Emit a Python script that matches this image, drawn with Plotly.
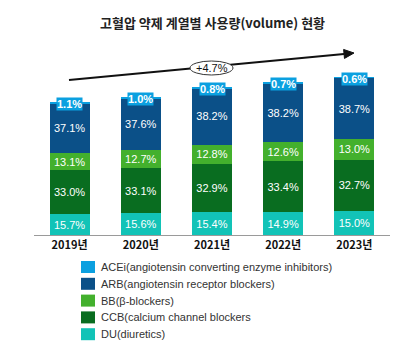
import math
import plotly.graph_objects as go

# Categories and data
years = ["2019년", "2020년", "2021년", "2022년", "2023년"]
# total prescription volume index per year (2019 = 100)
volume_index = [100, 103.8, 111.3, 115.0, 118.8]

series_names = [
    "DU(diuretics)",
    "CCB(calcium channel blockers",
    "BB(β-blockers)",
    "ARB(angiotensin receptor blockers)",
    "ACEi(angiotensin converting enzyme inhibitors)",
]
du_share = [15.7, 15.6, 15.4, 14.9, 15.0]
ccb_share = [33.0, 33.1, 32.9, 33.4, 32.7]
bb_share = [13.1, 12.7, 12.8, 12.6, 13.0]
arb_share = [37.1, 37.6, 38.2, 38.2, 38.7]
acei_share = [1.1, 1.0, 0.8, 0.7, 0.6]
growth_label = "+4.7%"

colors = ["#12c3b7", "#096d20", "#43b02d", "#0b5088", "#0ba0e0"]
shares = [du_share, ccb_share, bb_share, arb_share, acei_share]

# Page geometry in pixels; the plot area spans x 34..390, y 60..235
W, H = 401, 349
ml, mr, mt, mb = 34, 11, 60, 0
pw, ph = W - ml - mr, H - mt - mb
plot_bottom_px = 235
y_domain_low = (H - mb - plot_bottom_px) / ph


def px_to_paper(px, py):
    return (px - ml) / pw, (H - mb - py) / ph


fig = go.Figure()
for name, share, color in zip(series_names, shares, colors):
    is_top = share is acei_share
    values = [v * s / 100 for v, s in zip(volume_index, share)]
    fig.add_trace(go.Bar(
        x=years,
        y=values,
        name=name,
        marker=dict(color=color, line=dict(width=0)),
        text=None if is_top else [f"{s:.1f}%" for s in share],
        textposition="none" if is_top else "inside",
        insidetextanchor="middle",
        textfont=dict(family="Liberation Sans, Arial", size=11, color="white"),
        hoverinfo="skip",
        showlegend=False,
    ))

# ACEi share shown in a tag sitting on top of each bar
for yr, tot, s in zip(years, volume_index, acei_share):
    fig.add_annotation(
        x=yr, y=tot, xref="x", yref="y",
        text=f"<b>{s:.1f}%</b>", showarrow=False,
        font=dict(family="Liberation Sans, Arial", size=11, color="white"),
        bgcolor="#0ba0e0", borderpad=0, yanchor="middle", yshift=-2,
    )

# Trend arrow: shaft plus a filled head, drawn before the ellipse badge
tail = (69, 80)
tip = (354, 53)
dx, dy = tip[0] - tail[0], tip[1] - tail[1]
ln = math.hypot(dx, dy)
ux, uy = dx / ln, dy / ln
nx_, ny_ = -uy, ux
head_len, head_half = 10, 4.5
bx, by = tip[0] - head_len * ux, tip[1] - head_len * uy
sx0, sy0 = px_to_paper(*tail)
sx1, sy1 = px_to_paper(bx, by)
fig.add_shape(type="line", xref="paper", yref="paper",
              x0=sx0, y0=sy0, x1=sx1, y1=sy1,
              line=dict(color="#111111", width=2))
p_tip = px_to_paper(*tip)
p_a = px_to_paper(bx + head_half * nx_, by + head_half * ny_)
p_b = px_to_paper(bx - head_half * nx_, by - head_half * ny_)
fig.add_shape(type="path", xref="paper", yref="paper",
              path=f"M{p_tip[0]},{p_tip[1]} L{p_a[0]},{p_a[1]} L{p_b[0]},{p_b[1]} Z",
              fillcolor="#111111", line=dict(color="#111111", width=1))

# Growth label in an ellipse
ex0, ey0 = px_to_paper(190, 75)
ex1, ey1 = px_to_paper(233, 61)
fig.add_shape(type="circle", xref="paper", yref="paper",
              x0=ex0, y0=ey0, x1=ex1, y1=ey1,
              fillcolor="white", line=dict(color="#333333", width=1))
cx, cy = px_to_paper(211.5, 68)
fig.add_annotation(x=cx, y=cy, xref="paper", yref="paper", text=growth_label,
                   showarrow=False, yanchor="middle",
                   font=dict(family="Liberation Sans, Arial", size=11, color="#111111"))

# Key: colour swatch + series name, top entry first
legend_top_px, legend_step_px = 267, 16.8
for i, (name, color) in enumerate(zip(reversed(series_names), reversed(colors))):
    yc = legend_top_px + i * legend_step_px
    x0, y0 = px_to_paper(81, yc + 6)
    x1, y1 = px_to_paper(95, yc - 6)
    fig.add_shape(type="rect", xref="paper", yref="paper",
                  x0=x0, y0=y0, x1=x1, y1=y1,
                  fillcolor=color, line=dict(width=0))
    tx, ty = px_to_paper(99, yc)
    fig.add_annotation(x=tx, y=ty, xref="paper", yref="paper", text=name,
                       showarrow=False, xanchor="left", yanchor="middle",
                       font=dict(family="Liberation Sans, Arial", size=11,
                                 color="#333333"))

fig.update_layout(
    width=W, height=H,
    barmode="stack", bargap=0.44,
    margin=dict(l=ml, r=mr, t=mt, b=mb),
    paper_bgcolor="white", plot_bgcolor="white",
    title=dict(text="<b>고혈압 약제 계열별 사용량(volume) 현황</b>",
               x=0.53, xanchor="center", y=1 - 23 / H, yanchor="middle",
               font=dict(family="Noto Sans CJK KR", size=13, color="#222222")),
    uniformtext=dict(minsize=11, mode="show"),
    xaxis=dict(showgrid=False, showline=True, linecolor="#9a9a9a", linewidth=1,
               ticks="", tickfont=dict(family="Noto Sans CJK KR", size=11, color="#111111"),
               tickprefix="<b>", ticksuffix="</b>", fixedrange=True),
    yaxis=dict(visible=False, range=[0, 131.6], domain=[y_domain_low, 1],
               fixedrange=True),
    showlegend=False,
)

fig.write_html("out.html")
